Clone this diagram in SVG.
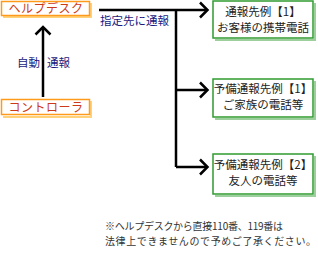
<svg xmlns="http://www.w3.org/2000/svg" width="318" height="262" viewBox="0 0 318 262">
<style>
.ob{fill:#fff;stroke:#ff9a1a;stroke-width:1.5}
.os{fill:none;stroke:#ffd27a;stroke-width:2}
.gb{fill:#fff;stroke:#2f9a2f;stroke-width:1.5}
.gs{fill:none;stroke:#9ccf9c;stroke-width:2}
.ot{font-family:"Noto Sans CJK JP",sans-serif;font-size:12px;fill:#cc3a1a;text-anchor:middle}
.gt{font-family:"Noto Sans CJK JP",sans-serif;font-size:11.5px;fill:#222;text-anchor:middle}
.lb{font-family:"Noto Sans CJK JP",sans-serif;font-size:11.5px;fill:#1a1a80}
.nt{font-family:"Noto Sans CJK JP",sans-serif;font-size:10px;fill:#333}
.ln{fill:none;stroke:#000;stroke-width:2.5}
.ah{fill:none;stroke:#000;stroke-width:2.5;stroke-linejoin:miter}
</style>
<g id="helpdesk">
<path class="os" d="M91,3 V17 H3"/>
<rect class="ob" x="1.5" y="1.5" width="88" height="14"/>
<text class="ot" x="46" y="13" letter-spacing="0.5">ヘルプデスク</text>
</g>
<g id="controller">
<path class="os" d="M91,101 V117 H3"/>
<rect class="ob" x="1.5" y="99.5" width="88" height="15"/>
<text class="ot" x="46" y="112" letter-spacing="0.5">コントローラ</text>
</g>
<g id="dest1">
<path class="gs" d="M315,3 V40 H215"/>
<rect class="gb" x="213" y="1" width="100" height="37"/>
<text class="gt" x="263" y="16">通報先例【1】</text>
<text class="gt" x="263" y="32">お客様の携帯電話</text>
</g>
<g id="dest2">
<path class="gs" d="M315,81 V119 H215"/>
<rect class="gb" x="213" y="79" width="100" height="38"/>
<text class="gt" x="263" y="93">予備通報先例【1】</text>
<text class="gt" x="263" y="109">ご家族の電話等</text>
</g>
<g id="dest3">
<path class="gs" d="M315,156 V196 H215"/>
<rect class="gb" x="213" y="154" width="100" height="40"/>
<text class="gt" x="263" y="169">予備通報先例【2】</text>
<text class="gt" x="263" y="185">友人の電話等</text>
</g>
<g id="connectors">
<path class="ln" d="M99,10 H207 M176,10 V167 M176,90 H207 M176,167 H207"/>
<path class="ah" d="M200,2.5 L207.5,10 L200,17.5 M200,82.5 L207.5,90 L200,97.5 M200,159.5 L207.5,167 L200,174.5"/>
<path class="ln" d="M43,97 V28"/>
<path class="ah" d="M35.5,34.5 L43,27 L50.5,34.5"/>
</g>
<g id="labels">
<text class="lb" x="100" y="25">指定先に通報</text>
<text class="lb" x="17" y="67">自動</text>
<text class="lb" x="47" y="67">通報</text>
<text class="nt" x="105" y="230" textLength="178" lengthAdjust="spacing">※ヘルプデスクから直接110番、119番は</text>
<text class="nt" x="105" y="245" textLength="211" lengthAdjust="spacing">法律上できませんので予めご了承ください。</text>
</g>
</svg>
